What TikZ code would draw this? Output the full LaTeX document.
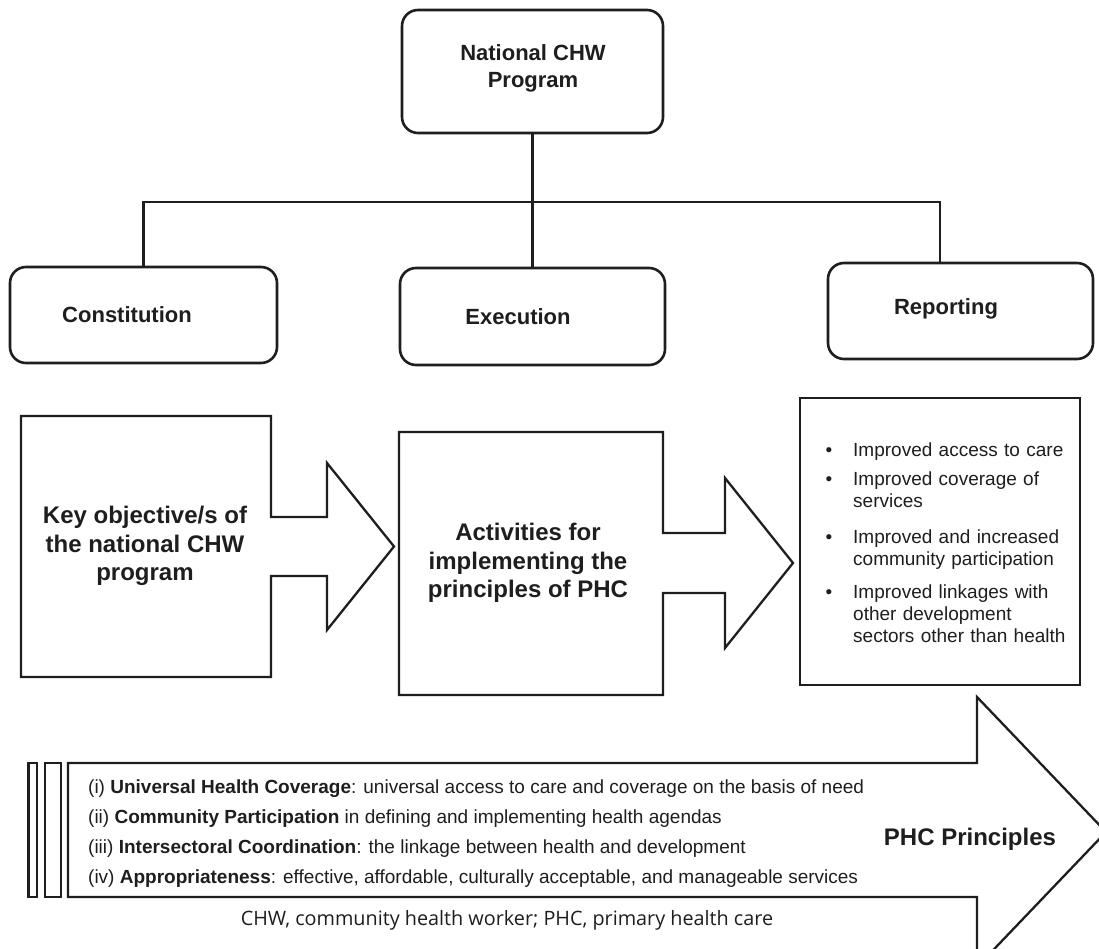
\documentclass[tikz,border=0pt]{standalone}
\usepackage{fontspec}
\setmainfont{Liberation Sans}
\newfontfamily\notefont{Open Sans}
\definecolor{ink}{HTML}{1E1E1E}
\begin{document}
\begin{tikzpicture}[x=1pt,y=-1pt,
  line join=miter,
  rbox/.style={draw=ink, line width=2.6pt, rounded corners=16pt, inner sep=0pt},
  pbox/.style={draw=ink, line width=2.3pt, inner sep=0pt},
  outline/.style={draw=ink, line width=2.3pt},
  link/.style={draw=ink, line width=2.2pt},
  toplabel/.style={font=\fontsize{22}{27}\selectfont\bfseries, text=ink, align=center, inner sep=0pt},
  midlabel/.style={font=\fontsize{24}{28.5}\selectfont\bfseries, text=ink, align=center, inner sep=0pt},
  bul/.style={font=\fontsize{19}{22}\selectfont, text=ink, anchor=base, inner sep=0pt},
  itemtext/.style={font=\fontsize{19}{22}\selectfont, text=ink, anchor=base west, text width=235pt, align=left, inner sep=0pt},
  princ/.style={font=\fontsize{19}{22}\selectfont, text=ink, anchor=base west, inner sep=0pt}]
\useasboundingbox (0,0) rectangle (1099,949);
\clip (0,0) rectangle (1099,949);
\fill[white] (0,0) rectangle (1099,949);

% top hierarchy
\node[rbox, minimum width=261pt, minimum height=123pt] (nat) at (532.5,71.5) {};
\node[toplabel] (natt) at (533,68) {National CHW\\Program};
\node[rbox, minimum width=267pt, minimum height=96pt] (con) at (143.5,315) {};
\node[toplabel] (cont) at (127,315) {Constitution};
\node[rbox, minimum width=265pt, minimum height=97pt] (exe) at (532.5,316.5) {};
\node[toplabel] (exet) at (518,317) {Execution};
\node[rbox, minimum width=265pt, minimum height=96pt] (rep) at (960.5,311) {};
\node[toplabel] (rept) at (946,309) {Reporting};

\coordinate (hl) at (143.5,202);
\coordinate (hr) at (940,202);
\draw[link] (nat.south) -- (exe.north);
\draw[link] (con.north) -- (hl) -- (hr) -- (hr |- rep.north);

% middle row: boxes with arrows
\draw[outline] (21,416) -- (271,416) -- (271,517) -- (327,517) -- (327,463) -- (394,546.5)
  -- (327,630) -- (327,576) -- (271,576) -- (271,677) -- (21,677) -- cycle;
\node[midlabel] (key) at (145,546) {Key objective/s of\\the national CHW\\program};

\draw[outline] (399,432) -- (663,432) -- (663,533) -- (725,533) -- (725,478) -- (793,563)
  -- (725,648) -- (725,593) -- (663,593) -- (663,695) -- (399,695) -- cycle;
\node[midlabel] (act) at (528,563) {Activities for\\implementing the\\principles of PHC};

\node[pbox, minimum width=280pt, minimum height=287pt] (res) at (940,541.5) {};
\node[bul] (b1) at (829,456) {•};
\node[itemtext] (i1) at (853,456) {Improved access to care};
\node[bul] (b2) at (829,485) {•};
\node[itemtext] (i2) at (853,485) {Improved coverage of\\services};
\node[bul] (b3) at (829,543) {•};
\node[itemtext] (i3) at (853,543) {Improved and increased\\community participation};
\node[bul] (b4) at (829,598) {•};
\node[itemtext] (i4) at (853,598) {Improved linkages with\\other development\\sectors other than health};

% bottom PHC principles arrow
\draw[outline] (68,763) -- (977,763) -- (977,697) -- (1106,832) -- (977,967) -- (977,897)
  -- (68,897) -- cycle;
\draw[outline] (28.5,763) rectangle (37,897);
\draw[outline] (45,763) rectangle (61,897);

\node[princ] (p1) at (88,793) {(i) \textbf{Universal Health Coverage}: universal access to care and coverage on the basis of need};
\node[princ] (p2) at (88,823) {(ii) \textbf{Community Participation} in defining and implementing health agendas};
\node[princ] (p3) at (88,853) {(iii) \textbf{Intersectoral Coordination}: the linkage between health and development};
\node[princ] (p4) at (88,883) {(iv) \textbf{Appropriateness}: effective, affordable, culturally acceptable, and manageable services};

\node[font=\fontsize{24}{28}\selectfont\bfseries, text=ink, inner sep=0pt] (phc) at (970,839) {PHC Principles};

\node[font=\notefont\fontsize{19.8}{23}\selectfont, text=ink, inner sep=0pt] (note) at (507,920) {CHW, community health worker; PHC, primary health care};
\end{tikzpicture}
\end{document}
